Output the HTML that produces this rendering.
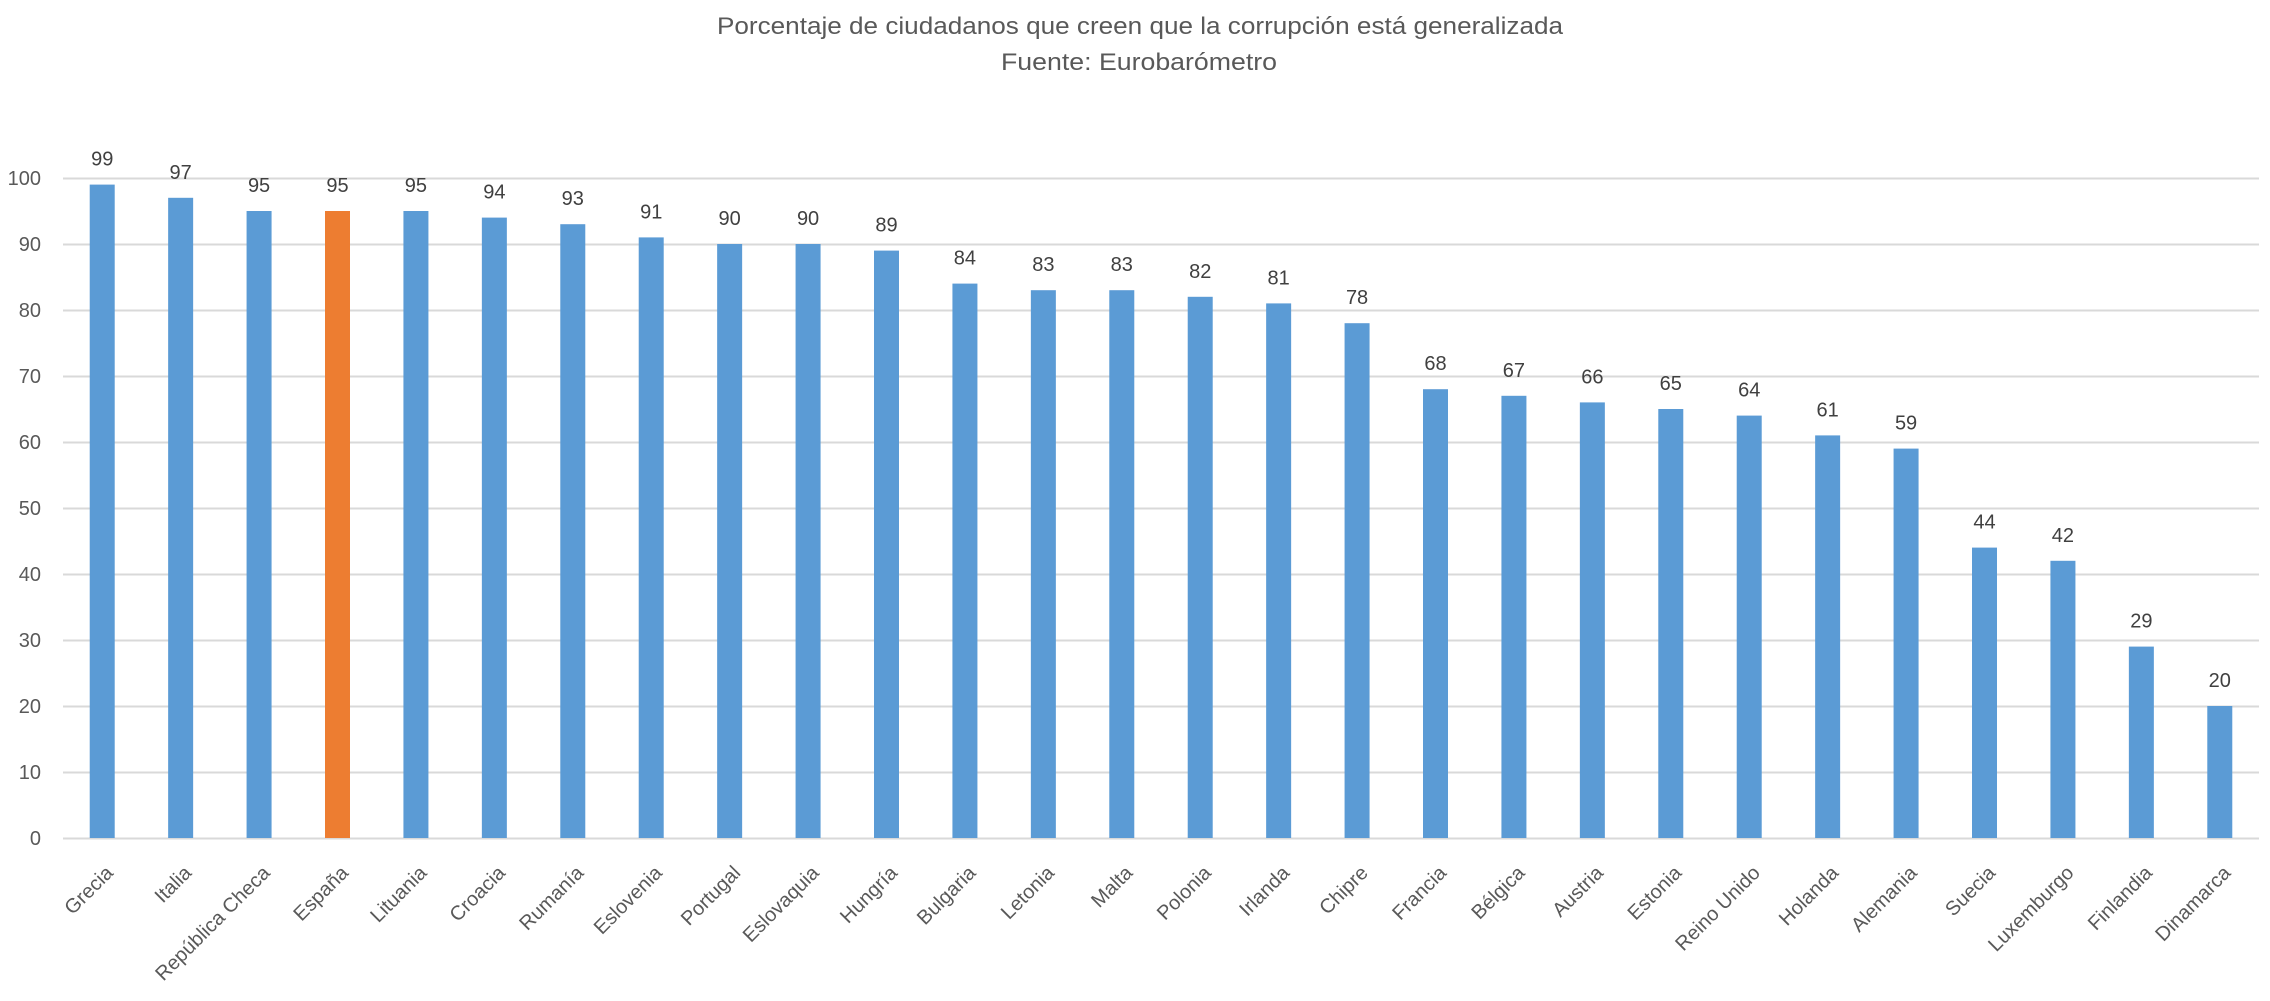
<!DOCTYPE html>
<html><head><meta charset="utf-8"><style>
html,body{margin:0;padding:0;background:#fff;}
svg{display:block;font-family:"Liberation Sans",sans-serif;}
</style></head><body>
<svg id="chart" width="2270" height="1001" viewBox="0 0 2270 1001" xmlns="http://www.w3.org/2000/svg">
<text x="1140" y="34" text-anchor="middle" font-size="24" fill="#595959" textLength="846" lengthAdjust="spacingAndGlyphs">Porcentaje de ciudadanos que creen que la corrupción está generalizada</text>
<text x="1139" y="70" text-anchor="middle" font-size="24" fill="#595959" textLength="276" lengthAdjust="spacingAndGlyphs">Fuente: Eurobarómetro</text>
<g id="grid"></g>
<g id="yticks"></g>
<g id="bars"></g>
<g id="labels"></g>
<g id="xlabels"></g>
</svg>
<script>
const categories = ["Grecia","Italia","República Checa","España","Lituania","Croacia","Rumanía","Eslovenia","Portugal","Eslovaquia","Hungría","Bulgaria","Letonia","Malta","Polonia","Irlanda","Chipre","Francia","Bélgica","Austria","Estonia","Reino Unido","Holanda","Alemania","Suecia","Luxemburgo","Finlandia","Dinamarca"];
const values = [99,97,95,95,95,94,93,91,90,90,89,84,83,83,82,81,78,68,67,66,65,64,61,59,44,42,29,20];
const highlight = ["España"];
const yTicks = [0,10,20,30,40,50,60,70,80,90,100];

const NS = "http://www.w3.org/2000/svg";
const plotLeft = 63, plotRight = 2259, y0 = 838, y100 = 178;
const band = (plotRight - plotLeft) / categories.length;
const barW = 25;
function xCenter(i){ return plotLeft + band * (i + 0.5); }
function yScale(v){ return y0 - (v / 100) * (y0 - y100); }
function mk(tag, attrs, parent){
  const e = document.createElementNS(NS, tag);
  for (const k in attrs) e.setAttribute(k, attrs[k]);
  parent.appendChild(e);
  return e;
}
const grid = document.getElementById('grid');
const yt = document.getElementById('yticks');
yTicks.forEach(t => {
  const y = Math.round(yScale(t)) + 0.5;
  const l = mk('line', {x1: plotLeft, x2: plotRight, y1: y, y2: y, stroke: '#d9d9d9', 'stroke-width': 2}, grid);
  
  
  const tx = mk('text', {x: 41, y: yScale(t) + 7, 'text-anchor': 'end', 'font-size': 20, fill: '#595959'}, yt);
  tx.textContent = t;
  
  
});
const bars = document.getElementById('bars');
const labels = document.getElementById('labels');
const xl = document.getElementById('xlabels');
categories.forEach((c, i) => {
  const cx = xCenter(i), v = values[i];
  const r = mk('rect', {x: cx - barW/2, y: yScale(v), width: barW, height: y0 - yScale(v), fill: highlight.includes(c) ? '#ed7d31' : '#5b9bd5'}, bars);
  
  
  const lt = mk('text', {x: cx, y: yScale(v) - 19, 'text-anchor': 'middle', 'font-size': 20, fill: '#404040'}, labels);
  lt.textContent = v;
  
  
  const ax = cx + 12, ay = 874;
  const xt = mk('text', {x: ax, y: ay, 'text-anchor': 'end', 'font-size': 20, fill: '#595959', transform: 'rotate(-45 ' + ax + ' ' + ay + ')'}, xl);
  xt.textContent = c;
  
  
});
</script>
</body></html>
